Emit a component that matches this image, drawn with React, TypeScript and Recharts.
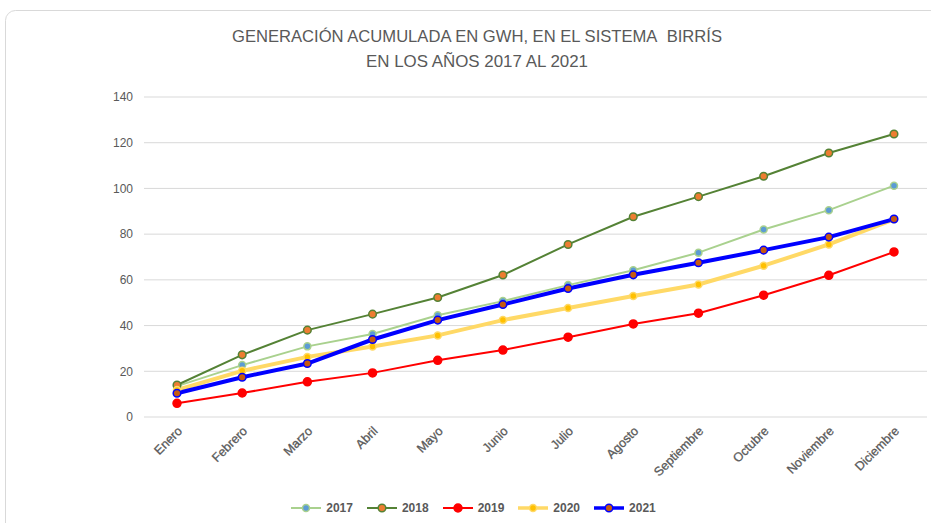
import React from 'react';
import { LineChart, Line, XAxis, YAxis, CartesianGrid, Legend } from 'recharts';

const months = ['Enero', 'Febrero', 'Marzo', 'Abril', 'Mayo', 'Junio', 'Julio', 'Agosto', 'Septiembre', 'Octubre', 'Noviembre', 'Diciembre'];
const v2017 = [13.5, 22.7, 30.9, 36.3, 44.5, 50.7, 57.7, 64.2, 71.9, 82.0, 90.5, 101.2];
const v2018 = [14.0, 27.2, 38.0, 45.0, 52.3, 62.1, 75.5, 87.6, 96.4, 105.3, 115.5, 123.8];
const v2019 = [6.0, 10.5, 15.4, 19.3, 24.8, 29.3, 34.9, 40.7, 45.4, 53.3, 62.0, 72.2];
const v2020 = [11.8, 20.2, 26.3, 30.8, 35.7, 42.4, 47.7, 52.9, 58.0, 66.2, 75.5, 86.5];
const v2021 = [10.4, 17.4, 23.4, 33.9, 42.4, 49.2, 56.2, 62.2, 67.5, 73.0, 78.7, 86.6];
const yTicks = [0, 20, 40, 60, 80, 100, 120, 140];
const titleLines = ['GENERACIÓN ACUMULADA EN GWH, EN EL SISTEMA\u00A0 BIRRÍS', 'EN LOS AÑOS 2017 AL 2021'];

const data = months.map((m, i) => ({
  month: m,
  y2017: v2017[i],
  y2018: v2018[i],
  y2019: v2019[i],
  y2020: v2020[i],
  y2021: v2021[i],
}));

const series = [
  { key: 'y2017', name: '2017', color: '#A9D18E', width: 2, dotFill: '#5B9BD5', dotStroke: '#A9D18E', r: 3.5 },
  { key: 'y2018', name: '2018', color: '#548235', width: 2, dotFill: '#ED7D31', dotStroke: '#548235', r: 3.8 },
  { key: 'y2019', name: '2019', color: '#FF0000', width: 2, dotFill: '#FF0000', dotStroke: '#FF0000', r: 4 },
  { key: 'y2020', name: '2020', color: '#FFD966', width: 4, dotFill: '#FFC000', dotStroke: '#FFD966', r: 3.5 },
  { key: 'y2021', name: '2021', color: '#0000FF', width: 4, dotFill: '#C55A11', dotStroke: '#0000FF', r: 3.8 },
];

const FONT = '"Liberation Sans", Arial, sans-serif';
const GRAY = '#595959';

const XTick = (props: any) => {
  const { x, y, payload } = props;
  return (
    <g transform={`translate(${x + 3},${y + 4})`}>
      <text transform="rotate(-45)" textAnchor="end" x={0} y={0} dy={4} fill={GRAY} fontSize={12.5} fontFamily={FONT} stroke={GRAY} strokeWidth={0.3}>
        {payload.value}
      </text>
    </g>
  );
};

const LegendContent = () => (
  <div style={{ display: 'flex', justifyContent: 'center', paddingLeft: 28, paddingTop: 10, fontFamily: FONT, fontSize: 12, fontWeight: 'bold', color: GRAY }}>
    {series.map((s) => (
      <div key={s.key} style={{ display: 'flex', alignItems: 'center', marginRight: 13 }}>
        <svg width={32} height={12} style={{ marginRight: 4 }}>
          <line x1={1} y1={6} x2={31} y2={6} stroke={s.color} strokeWidth={s.width === 4 ? 3.5 : 2} />
          <circle cx={16} cy={6} r={s.r} fill={s.dotFill} stroke={s.dotStroke} strokeWidth={1.5} />
        </svg>
        <span>{s.name}</span>
      </div>
    ))}
  </div>
);

export default function App() {
  return (
    <div style={{ position: 'absolute', left: 0, top: 0, width: 931, height: 523, background: '#fff', overflow: 'hidden' }}>
      <svg width={931} height={523} style={{ position: 'absolute', left: 0, top: 0 }}>
        <rect x={5.5} y={10.5} width={1000} height={600} rx={10} ry={10} fill="#fff" stroke="#D9D9D9" strokeWidth={1} />
        <text x={477} y={42} textAnchor="middle" fill={GRAY} fontSize={17} fontFamily={FONT} textLength={490} lengthAdjust="spacingAndGlyphs">
          {titleLines[0]}
        </text>
        <text x={477} y={67} textAnchor="middle" fill={GRAY} fontSize={17} fontFamily={FONT} textLength={222} lengthAdjust="spacingAndGlyphs">
          {titleLines[1]}
        </text>
      </svg>
      <div style={{ position: 'absolute', left: 0, top: 0 }}>
        <LineChart width={931} height={523} data={data} margin={{ top: 97, right: 4, bottom: 2, left: 104 }}>
          <CartesianGrid horizontal={true} vertical={false} stroke="#D9D9D9" strokeWidth={1} />
          <XAxis dataKey="month" axisLine={false} tickLine={false} interval={0} height={74} padding={{ left: 33, right: 33 }} tick={<XTick />} />
          <YAxis
            domain={[0, 140]}
            ticks={yTicks}
            width={40}
            axisLine={false}
            tickLine={false}
            tickSize={0}
            tickMargin={11}
            tick={{ fill: GRAY, fontSize: 12, fontFamily: FONT }}
          />
          <Legend verticalAlign="bottom" height={30} content={<LegendContent />} wrapperStyle={{ left: 0, width: 931 }} />
          {series.map((s) => (
            <Line
              key={s.key}
              type="linear"
              dataKey={s.key}
              name={s.name}
              stroke={s.color}
              strokeWidth={s.width}
              dot={{ r: s.r, fill: s.dotFill, stroke: s.dotStroke, strokeWidth: 1.5 }}
              activeDot={false}
              isAnimationActive={false}
            />
          ))}
        </LineChart>
      </div>
    </div>
  );
}
